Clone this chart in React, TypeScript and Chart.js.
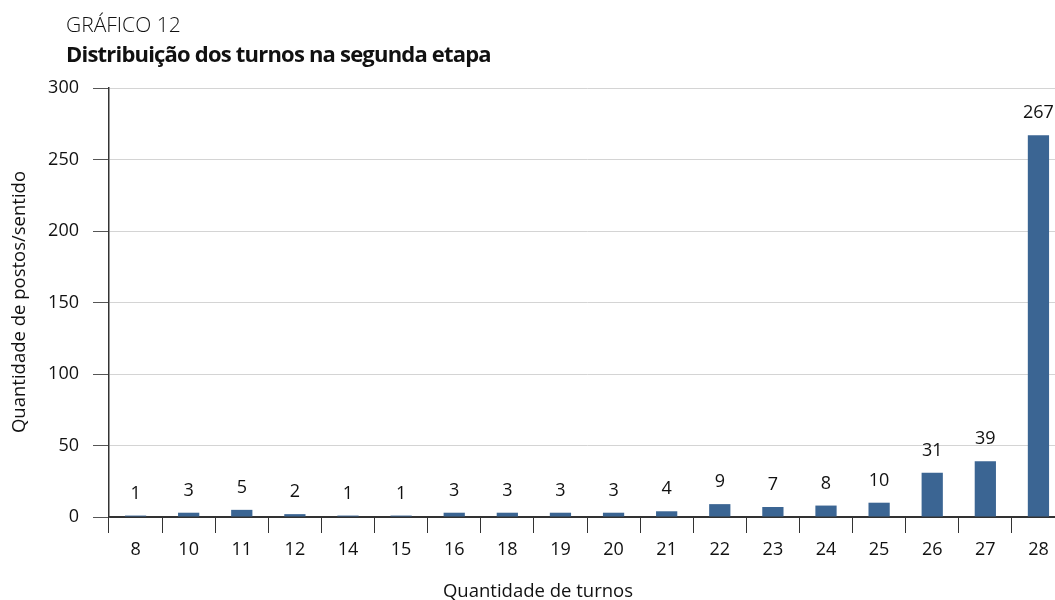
import React, { useEffect, useRef } from "react";
import { Chart, registerables } from "chart.js";

Chart.register(...registerables);

// Turnos por posto/sentido na segunda etapa
const turnos = ["8", "10", "11", "12", "14", "15", "16", "18", "19", "20", "21", "22", "23", "24", "25", "26", "27", "28"];
const postos = [1, 3, 5, 2, 1, 1, 3, 3, 3, 3, 4, 9, 7, 8, 10, 31, 39, 267];
const yTicks = [0, 50, 100, 150, 200, 250, 300];

const FONT = "'Open Sans', 'Noto Sans', sans-serif";
const BAR_COLOR = "#3b6593";
const TEXT_COLOR = "#111";

// Writes each bar's value above it
const valueLabels = {
  id: "valueLabels",
  afterDatasetsDraw(chart: any) {
    const { ctx } = chart;
    const meta = chart.getDatasetMeta(0);
    ctx.save();
    ctx.font = `18px ${FONT}`;
    ctx.fillStyle = TEXT_COLOR;
    ctx.textAlign = "center";
    ctx.textBaseline = "middle";
    meta.data.forEach((bar: any, i: number) => {
      ctx.fillText(String(postos[i]), bar.x, bar.y - 22);
    });
    ctx.restore();
  },
};

// Axis titles, placed in the margins around the plot
const axisTitles = {
  id: "axisTitles",
  afterDraw(chart: any) {
    const { ctx } = chart;
    ctx.save();
    ctx.font = `18.5px ${FONT}`;
    ctx.fillStyle = TEXT_COLOR;
    ctx.textAlign = "center";
    ctx.textBaseline = "middle";
    ctx.fillText("Quantidade de turnos", 538, 592);
    ctx.translate(20, 302);
    ctx.rotate(-Math.PI / 2);
    ctx.fillText("Quantidade de postos/sentido", 0, 0);
    ctx.restore();
  },
};

export default function App() {
  const canvasRef = useRef<HTMLCanvasElement>(null);

  useEffect(() => {
    document.body.style.margin = "0";
    const canvas = canvasRef.current;
    if (!canvas) return;
    const chart = new Chart(canvas, {
      type: "bar",
      data: {
        labels: turnos,
        datasets: [
          {
            data: postos,
            backgroundColor: BAR_COLOR,
            barPercentage: 0.4,
            categoryPercentage: 1,
          },
        ],
      },
      options: {
        animation: false,
        responsive: false,
        devicePixelRatio: 1,
        layout: { padding: { top: 88, right: 0, left: 0, bottom: 0 } },
        plugins: {
          legend: { display: false },
          tooltip: { enabled: false },
        },
        scales: {
          x: {
            offset: true,
            grid: {
              offset: true,
              drawOnChartArea: false,
              drawTicks: true,
              tickLength: 16,
              tickColor: "#333",
            },
            border: { color: "#333", width: 1.5 },
            ticks: {
              color: TEXT_COLOR,
              font: { family: FONT, size: 18 },
              padding: 6,
              maxRotation: 0,
              autoSkip: false,
            },
            afterFit(scale: any) {
              scale.height = 83;
            },
          },
          y: {
            min: 0,
            max: 300,
            afterBuildTicks(scale: any) {
              scale.ticks = yTicks.map((v) => ({ value: v }));
            },
            grid: {
              color: (c: any) => (c.tick && c.tick.value === 0 ? "#333" : "#d4d4d4"),
              tickColor: "#555",
              tickLength: 16,
            },
            border: { color: "#333", width: 1.5 },
            ticks: {
              color: TEXT_COLOR,
              font: { family: FONT, size: 18 },
              padding: 14,
            },
            afterFit(scale: any) {
              scale.width = 109;
            },
          },
        },
      },
      plugins: [valueLabels, axisTitles],
    });
    return () => chart.destroy();
  }, []);

  return (
    <div style={{ position: "relative", width: 1055, height: 600, background: "#fff", overflow: "hidden" }}>
      <div
        style={{
          position: "absolute",
          left: 66,
          top: 11,
          fontFamily: FONT,
          fontWeight: 300,
          fontSize: 21,
          color: TEXT_COLOR,
          lineHeight: "26px",
          whiteSpace: "nowrap",
        }}
      >
        GRÁFICO 12
      </div>
      <div
        style={{
          position: "absolute",
          left: 66,
          top: 40,
          fontFamily: FONT,
          fontWeight: 700,
          fontSize: 22,
          letterSpacing: -0.8,
          color: TEXT_COLOR,
          lineHeight: "26px",
          whiteSpace: "nowrap",
        }}
      >
        Distribuição dos turnos na segunda etapa
      </div>
      {/* the plot runs slightly past the right edge of the frame */}
      <canvas ref={canvasRef} width={1065} height={600} style={{ display: "block" }} />
    </div>
  );
}
